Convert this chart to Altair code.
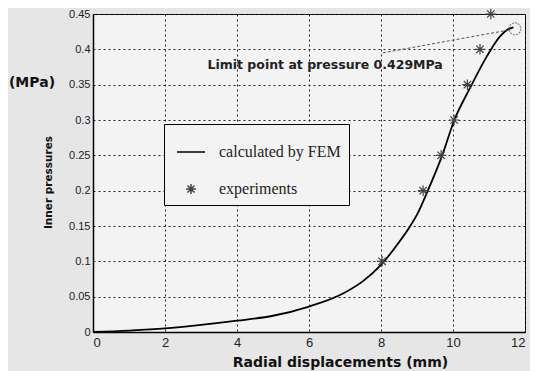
import altair as alt
import pandas as pd

# FEM curve
fem_x = [0.0, 1.0, 2.0, 3.0, 4.0, 5.0, 6.0, 7.0, 7.5, 8.0, 8.5, 8.8, 9.0, 9.3, 9.7, 10.03, 10.47, 10.94, 11.3, 11.55, 11.68]
fem_y = [0.0, 0.002, 0.005, 0.010, 0.016, 0.023, 0.036, 0.056, 0.072, 0.095, 0.127, 0.149, 0.166, 0.200, 0.250, 0.299, 0.345, 0.390, 0.418, 0.429, 0.431]

# experiments
exp_x = [8.03, 9.17, 9.67, 10.03, 10.40, 10.75, 11.05]
exp_y = [0.10, 0.20, 0.25, 0.30, 0.35, 0.40, 0.45]

# limit point + annotation
limit_x = [11.72]
limit_y = [0.429]
ann_line_x = [8.05]
ann_line_y = [0.395]
ann_line_x2 = [11.62]
ann_line_y2 = [0.428]
ann_text = ["Limit point at pressure 0.429MPa"]
ann_text_x = [3.18]
ann_text_y = [0.378]

x_ticks = [0, 2, 4, 6, 8, 10, 12]
y_ticks = [0, 0.05, 0.1, 0.15, 0.2, 0.25, 0.3, 0.35, 0.4, 0.45]
series = ["calculated by FEM", "experiments"]

fem = pd.DataFrame({"x": fem_x, "y": fem_y})
exp = pd.DataFrame({"x": exp_x, "y": exp_y, "s": ["experiments"] * len(exp_x)})
lim = pd.DataFrame({"x": limit_x, "y": limit_y})
seg = pd.DataFrame({"x": ann_line_x, "y": ann_line_y, "x2": ann_line_x2, "y2": ann_line_y2})
ann = pd.DataFrame({"x": ann_text_x, "y": ann_text_y, "t": ann_text})
unit = pd.DataFrame({"t": ["(MPa)"]})

PLOT_FILL = "#f3f3f3"
BOLD_FONT = "DejaVu Sans"

xs = alt.Scale(domain=[0, 12], nice=False)
ys = alt.Scale(domain=[0, 0.45], nice=False)

x_axis = alt.Axis(
    values=x_ticks, grid=True, gridDash=[2, 3], gridColor="#222", gridOpacity=1,
    ticks=False, domainColor="black", domainWidth=1.5, labelOverlap=False,
    labelFont="Liberation Sans", labelFontSize=13, labelColor="#222", labelPadding=4,
    title="Radial displacements (mm)", titleFont=BOLD_FONT, titleFontSize=14,
    titleFontWeight="bold", titleColor="#111", titleX=247, titleY=30, titleBaseline="middle",
)
y_axis = alt.Axis(
    values=y_ticks, format="~g", grid=True, gridDash=[2, 3], gridColor="#222", gridOpacity=1,
    ticks=False, domainColor="black", domainWidth=1.5, labelOverlap=False,
    labelFont="Liberation Sans", labelFontSize=11, labelColor="#222", labelPadding=3,
    title="Inner pressures", titleFont=BOLD_FONT, titleFontSize=10.5,
    titleFontWeight="bold", titleColor="#111", titleX=-45, titleY=168,
    titleBaseline="middle", titleAlign="center", titleAngle=270,
)

X = alt.X("x:Q", scale=xs, axis=x_axis)
Y = alt.Y("y:Q", scale=ys, axis=y_axis)

line = alt.Chart(fem).mark_line(color="black", strokeWidth=1.8, interpolate="monotone").encode(
    x=X, y=Y)

star_path = "M0,-1V1M-1,0H1M-0.7,-0.7L0.7,0.7M-0.7,0.7L0.7,-0.7"
line_path = "M-2.8,0H2.8"

pts = alt.Chart(exp).mark_point(filled=False, size=110, strokeWidth=1.2, opacity=1).encode(
    x=X,
    y=Y,
    shape=alt.Shape("s:N", scale=alt.Scale(domain=series, range=[line_path, star_path]),
                    legend=alt.Legend(
                        orient="none", legendX=71, legendY=110, title=" ",
                        titleFontSize=6, titlePadding=6, padding=8,
                        strokeColor="black", fillColor=PLOT_FILL,
                        symbolSize=100, symbolStrokeWidth=1.5, symbolOffset=11,
                        labelFont="Liberation Serif", labelFontSize=16, labelColor="#222",
                        labelOffset=20, rowPadding=21,
                    )),
    color=alt.Color("s:N", scale=alt.Scale(domain=series, range=["black", "#444"])),
)

limit = alt.Chart(lim).mark_point(shape="circle", size=140, filled=False, color="#555",
                                  strokeWidth=1.2, strokeDash=[2, 1]).encode(x=X, y=Y)

segm = alt.Chart(seg).mark_rule(color="#555", strokeWidth=1, strokeDash=[3, 2]).encode(
    x=X, y=Y, x2="x2:Q", y2="y2:Q")

txt = alt.Chart(ann).mark_text(align="left", baseline="middle", font=BOLD_FONT,
                               fontWeight="bold", fontSize=12.5, color="#222").encode(
    x=X, y=Y, text="t:N")

mpa = alt.Chart(unit).mark_text(align="center", baseline="middle", font=BOLD_FONT,
                                fontWeight="bold", fontSize=14, color="#111").encode(
    x=alt.value(-61), y=alt.value(69), text="t:N")

chart = alt.layer(line, segm, limit, pts, txt, mpa).properties(
    width=432, height=318,
    autosize=alt.AutoSizeParams(type="none"),
    padding={"left": 85, "top": 6, "right": 5, "bottom": 39},
    background="#e6e6e6",
).configure_view(fill=PLOT_FILL, stroke="black", strokeWidth=1)

chart.save("out.html", embed_options={"renderer": "svg", "actions": False})
